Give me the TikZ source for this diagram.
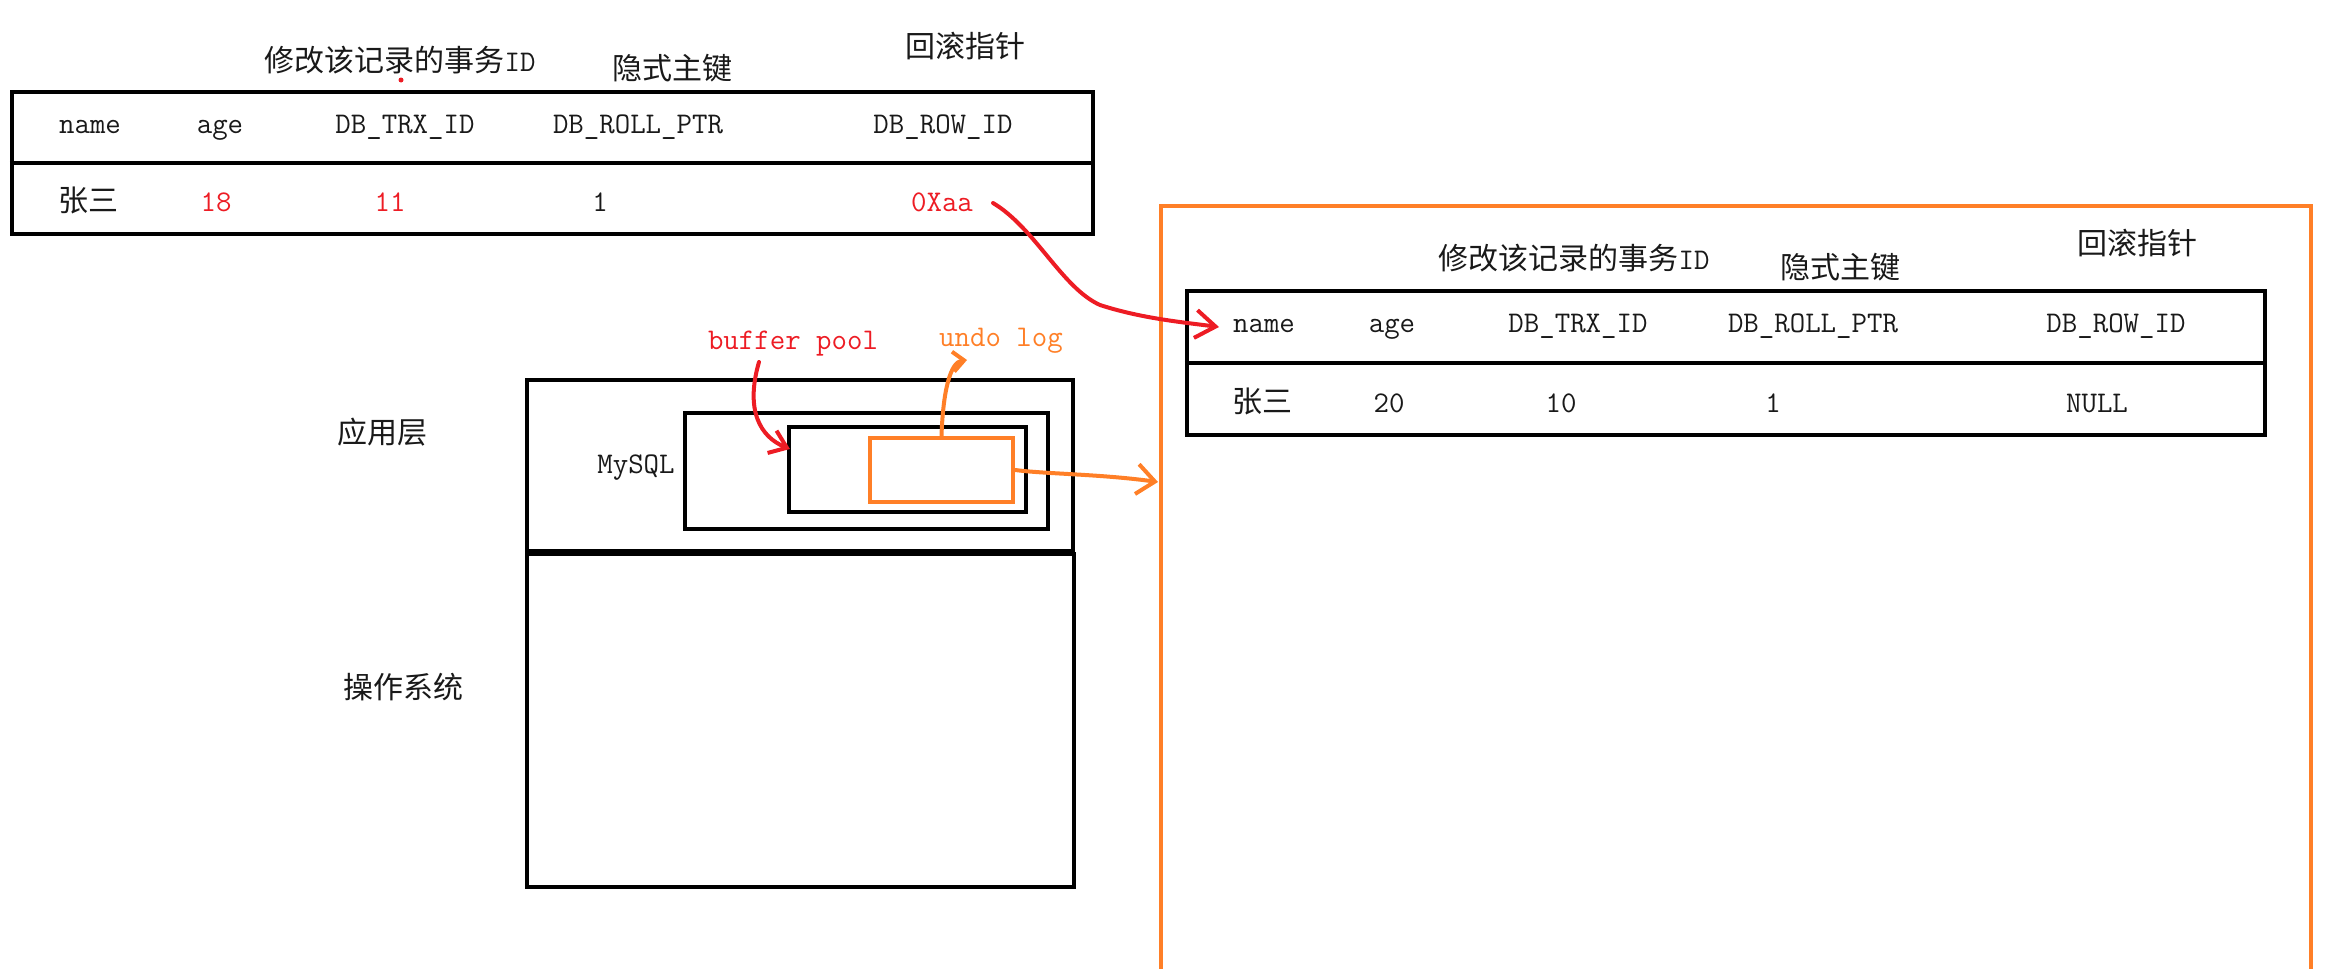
\documentclass[tikz,border=0pt]{standalone}
\usepackage{fontspec}
\newfontfamily\cjk{Noto Sans CJK SC}
\usetikzlibrary{arrows.meta}
\definecolor{pred}{RGB}{237,28,36}
\definecolor{porange}{RGB}{255,127,39}
\definecolor{ptext}{RGB}{25,25,25}
\begin{document}
\begin{tikzpicture}[x=1pt,y=-1pt,
  blackbox/.style={draw=black, line width=4.5pt, rectangle, inner sep=0pt},
  orangebox/.style={draw=porange, line width=4.5pt, rectangle, inner sep=0pt},
  lt/.style={font=\ttfamily\fontsize{30}{32}\selectfont, inner sep=0pt, text=ptext, anchor=base},
  cn/.style={font=\cjk\fontsize{30}{32}\selectfont, inner sep=0pt, text=ptext, anchor=base},
  rt/.style={text=pred},
  ot/.style={text=porange},
  redline/.style={draw=pred, line width=4pt, line cap=round, line join=round},
  orangeline/.style={draw=porange, line width=4pt, line cap=round, line join=round}
]
\path[use as bounding box] (0,0) rectangle (2338,969);
\clip (0,0) rectangle (2338,969);

% ---------- table 1 ----------
\node[blackbox, minimum width=1081pt, minimum height=142pt] (t1) at (552.5,163) {};
\draw[line width=4.5pt] (t1.west) -- (t1.east);
\node[cn] (h1a) at (400,71) {修改该记录的事务{\ttfamily ID}};
\fill[pred] (401,80) circle (2.5);
\node[cn] (h1b) at (672,79) {隐式主键};
\node[cn] (h1c) at (965,57) {回滚指针};
\node[lt] (a1) at (90,133) {name};
\node[lt] (a2) at (220,133) {age};
\node[lt] (a3) at (405,133) {DB\_TRX\_ID};
\node[lt] (a4) at (638,133) {DB\_ROLL\_PTR};
\node[lt] (a5) at (943,133) {DB\_ROW\_ID};
\node[cn] (b1) at (88,211) {张三};
\node[lt,rt] (b2) at (216,211) {18};
\node[lt,rt] (b3) at (390,211) {11};
\node[lt] (b4) at (600,211) {1};
\node[lt,rt] (x0) at (942,211) {0Xaa};

% ---------- big orange box + table 2 ----------
\node[orangebox, minimum width=1150pt, minimum height=820pt] (big) at (1736,616) {};
\node[blackbox, minimum width=1078pt, minimum height=144pt] (t2) at (1726,363) {};
\draw[line width=4.5pt] (t2.west) -- (t2.east);
\node[cn] (h2a) at (1574,269) {修改该记录的事务{\ttfamily ID}};
\node[cn] (h2b) at (1840,278) {隐式主键};
\node[cn] (h2c) at (2137,254) {回滚指针};
\node[lt] (c1) at (1264,332) {name};
\node[lt] (c2) at (1392,332) {age};
\node[lt] (c3) at (1578,332) {DB\_TRX\_ID};
\node[lt] (c4) at (1813,332) {DB\_ROLL\_PTR};
\node[lt] (c5) at (2116,332) {DB\_ROW\_ID};
\node[cn] (d1) at (1262,412) {张三};
\node[lt] (d2) at (1389,412) {20};
\node[lt] (d3) at (1561,412) {10};
\node[lt] (d4) at (1773,412) {1};
\node[lt] (d5) at (2097,412) {NULL};

% ---------- layers ----------
\node[cn] (app) at (382,443) {应用层};
\node[cn] (os) at (403,698) {操作系统};
\node[blackbox, minimum width=546pt, minimum height=171pt] (appbox) at (800,465.5) {};
\node[blackbox, minimum width=547pt, minimum height=333pt] (osbox) at (800.5,720.5) {};
\node[blackbox, minimum width=363pt, minimum height=116pt] (mysql) at (866.5,471) {};
\node[lt] (mysqll) at (636,473) {MySQL};
\node[blackbox, minimum width=237pt, minimum height=85pt] (bp) at (907.5,469.5) {};
\node[orangebox, minimum width=143pt, minimum height=64pt] (undo) at (941.5,470) {};
\node[lt,rt] (bpl) at (793,349) {buffer pool};
\node[lt,ot] (ul) at (1001,346) {undo log};

% ---------- connectors ----------
\coordinate (rs) at (993,203);
\coordinate (re) at (1219,327);
\draw[redline, -{Straight Barb[length=20pt,width=28pt,line width=4pt]}]
  (rs) .. controls (1035,228) and (1062,288) .. (1100,305)
       .. controls (1140,318) and (1180,322) .. (re);

\coordinate (bs) at (759,362);
\coordinate (be) at (790,449);
\draw[redline, -{Straight Barb[length=16pt,width=24pt,line width=4pt]}]
  (bs) .. controls (745,410) and (760,437) .. (be);

\coordinate (ue) at (967,360);
\draw[orangeline, -{Straight Barb[length=11pt,width=20pt,line width=4pt]}]
  (undo.north) .. controls (943,392) and (950,362) .. (ue);

\coordinate (oe) at (1158,482);
\draw[orangeline, -{Straight Barb[length=18pt,width=30pt,line width=4pt]}]
  (undo.east) .. controls (1045,474) and (1100,474) .. (oe);
\end{tikzpicture}
\end{document}
